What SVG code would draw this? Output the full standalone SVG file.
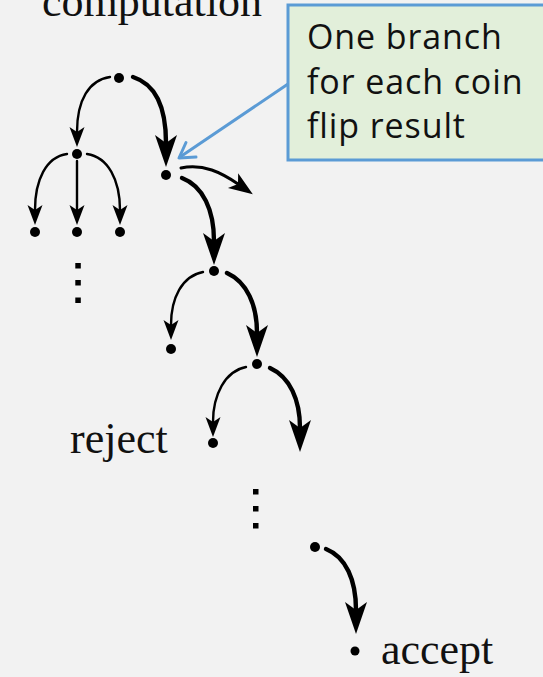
<svg xmlns="http://www.w3.org/2000/svg" width="543" height="677" viewBox="0 0 543 677">
<style>
.bg{fill:#f2f2f2}
.dot{fill:#000}
.lbl{font-family:"Liberation Serif","Times New Roman",serif;font-size:44px;fill:#111}
.thin{fill:none;stroke:#000;stroke-width:2.4;stroke-linecap:round}
.thick{fill:none;stroke:#000;stroke-width:4.4;stroke-linecap:round}
.mid{fill:none;stroke:#000;stroke-width:3;stroke-linecap:round}
.call{fill:#e2efda;stroke:#5b9bd5;stroke-width:3}
.ctext{font-family:"Open Sans","Noto Sans","DejaVu Sans",sans-serif;font-size:34px;letter-spacing:0.9px;fill:#111}
.ptr{fill:none;stroke:#5b9bd5;stroke-width:3;stroke-linecap:round;stroke-linejoin:round}
</style>
<defs>
<marker id="ahThin" markerUnits="userSpaceOnUse" markerWidth="24" markerHeight="20" viewBox="-2 -10 24 20" refX="5" refY="0" orient="auto">
<path d="M20,0 L0,-7.5 L5,0 L0,7.5 Z" fill="#000"/>
</marker>
<marker id="ahMid" markerUnits="userSpaceOnUse" markerWidth="28" markerHeight="24" viewBox="-2 -12 28 24" refX="6" refY="0" orient="auto">
<path d="M24,0 L0,-9 L6,0 L0,9 Z" fill="#000"/>
</marker>
<marker id="ahThick" markerUnits="userSpaceOnUse" markerWidth="36" markerHeight="26" viewBox="-2 -13 36 26" refX="8" refY="0" orient="auto">
<path d="M32,0 L0,-11 L8,0 L0,11 Z" fill="#000"/>
</marker>
</defs>
<rect class="bg" x="0" y="0" width="543" height="677"/>
<text class="lbl" x="42" y="16">computation</text>

<g id="connectors">
<path class="thin" d="M110,77 C 89,80 77,100 77,132" marker-end="url(#ahThin)"/>
<path class="thick" d="M133,77 C 155,84 166,105 166,143" marker-end="url(#ahThick)"/>
<path class="thin" d="M67,154 C 46,157 35,180 35,210" marker-end="url(#ahThin)"/>
<path class="thin" d="M77,161 L77,210" marker-end="url(#ahThin)"/>
<path class="thin" d="M87,154 C 108,157 120,180 120,210" marker-end="url(#ahThin)"/>
<path class="mid" d="M181,168 C 203,163 222,173 238,184" marker-end="url(#ahMid)"/>
<path class="thick" d="M182,178 C 203,186 214,210 214,241" marker-end="url(#ahThick)"/>
<path class="thin" d="M203,272 C 182,276 171,298 171,325" marker-end="url(#ahThin)"/>
<path class="thick" d="M227,273 C 247,282 257,305 257,333" marker-end="url(#ahThick)"/>
<path class="thin" d="M246,367 C 225,371 213,395 213,422" marker-end="url(#ahThin)"/>
<path class="thick" d="M270,368 C 290,377 300,400 300,428" marker-end="url(#ahThick)"/>
<path class="thick" d="M326,549 C 346,557 356,580 356,610" marker-end="url(#ahThick)"/>
<path class="ptr" d="M288,84 L180,157"/>
<path class="ptr" d="M186,142.5 L179,158 L196,157"/>
</g>

<g id="n-root"><circle class="dot" cx="119" cy="78" r="5"/></g>
<g id="n-left"><circle class="dot" cx="77" cy="154" r="5"/></g>
<g id="n-left-1"><circle class="dot" cx="35" cy="232" r="5"/></g>
<g id="n-left-2"><circle class="dot" cx="77" cy="232" r="5"/></g>
<g id="n-left-3"><circle class="dot" cx="120" cy="232" r="5"/></g>
<g id="n-left-more">
<rect class="dot" x="75.3" y="263" width="5.5" height="5.5"/>
<rect class="dot" x="75.3" y="280" width="5.5" height="5.5"/>
<rect class="dot" x="75.3" y="297.5" width="5.5" height="5.5"/>
</g>
<g id="n-c"><circle class="dot" cx="166" cy="175" r="5"/></g>
<g id="n-d"><circle class="dot" cx="214" cy="271" r="5"/></g>
<g id="n-e"><circle class="dot" cx="171" cy="349" r="5"/></g>
<g id="n-f"><circle class="dot" cx="257" cy="364" r="5"/></g>
<g id="n-reject">
<circle class="dot" cx="213" cy="443" r="5"/>
<text class="lbl" x="70" y="453">reject</text>
</g>
<g id="n-more">
<rect class="dot" x="253" y="489" width="5.5" height="5.5"/>
<rect class="dot" x="253" y="506" width="5.5" height="5.5"/>
<rect class="dot" x="253" y="523" width="5.5" height="5.5"/>
</g>
<g id="n-h"><circle class="dot" cx="315" cy="547" r="5"/></g>
<g id="n-accept">
<circle class="dot" cx="355" cy="651" r="4.5"/>
<text class="lbl" x="381" y="664">accept</text>
</g>

<g id="callout">
<rect class="call" x="288" y="5" width="300" height="155"/>
<text class="ctext" x="307" y="49">One branch</text>
<text class="ctext" x="307" y="94">for each coin</text>
<text class="ctext" x="307" y="138">flip result</text>
</g>
</svg>
